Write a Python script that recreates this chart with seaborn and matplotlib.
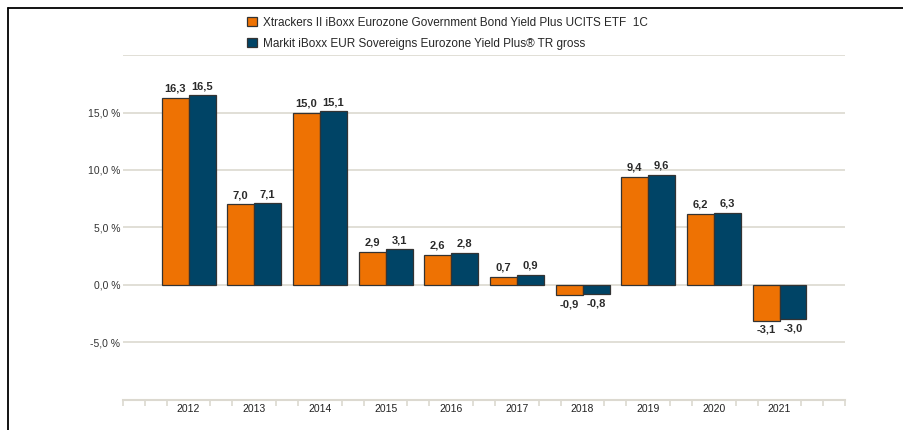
import numpy as np
import pandas as pd
import matplotlib.pyplot as plt
import matplotlib.ticker as mticker
from matplotlib.lines import Line2D
import seaborn as sns

years = ["2012", "2013", "2014", "2015", "2016", "2017", "2018", "2019", "2020", "2021"]
etf_name = "Xtrackers II iBoxx Eurozone Government Bond Yield Plus UCITS ETF  1C"
index_name = "Markit iBoxx EUR Sovereigns Eurozone Yield Plus® TR gross"
etf_values = [16.3, 7.0, 15.0, 2.9, 2.6, 0.7, -0.9, 9.4, 6.2, -3.1]
index_values = [16.5, 7.1, 15.1, 3.1, 2.8, 0.9, -0.8, 9.6, 6.3, -3.0]
y_tick_values = [-10, -5, 0, 5, 10, 15, 20]
y_tick_labels = ["", "-5,0 %", "0,0 %", "5,0 %", "10,0 %", "15,0 %", ""]

df = pd.DataFrame({
    "year": years * 2,
    "series": [etf_name] * len(years) + [index_name] * len(years),
    "value": etf_values + index_values,
})

sns.set_style("white")
plt.rcParams["font.family"] = ["Liberation Sans", "DejaVu Sans"]

fig = plt.figure(figsize=(9.04, 4.30), dpi=100)
ax = fig.add_axes([0.136, 0.070, 0.799, 0.802])

grid_col = "#dcd9d0"
sns.barplot(
    data=df, x="year", y="value", hue="series",
    order=years, hue_order=[etf_name, index_name],
    palette=["#ee7203", "#004466"], saturation=1,
    width=0.82, edgecolor="#333333", linewidth=0.9,
    ax=ax, zorder=3,
)

for cont, vals in zip(ax.containers, [etf_values, index_values]):
    labels = [f"{v:.1f}".replace(".", ",") for v in vals]
    ax.bar_label(cont, labels=labels, padding=3, fontsize=8, fontweight="bold", color="#2a2a2a")

ax.set_xlim(-1, 10)
ax.set_ylim(-10, 20)
ax.set_yticks(y_tick_values)
ax.set_yticklabels(y_tick_labels, fontsize=7.5, color="#333333")
ax.yaxis.grid(True, color=grid_col, linewidth=1.2, zorder=0)
ax.tick_params(axis="y", length=0, pad=2)

# x axis: labels at category centres, small ticks at thirds
ax.set_xticks(range(len(years)))
ax.set_xticklabels(years, fontsize=7.5, color="#222222")
ax.tick_params(axis="x", which="major", length=0, pad=3)
minor = [x for x in np.arange(-1, 10.01, 1 / 3) if abs(x - round(x)) > 0.05 or round(x) in (-1, 10)]
ax.xaxis.set_minor_locator(mticker.FixedLocator(minor))
ax.tick_params(axis="x", which="minor", bottom=True, length=4, color=grid_col, width=1.2, direction="out")

ax.set_xlabel("")
ax.set_ylabel("")
for side in ["top", "right", "left"]:
    ax.spines[side].set_visible(False)
ax.spines["bottom"].set_color(grid_col)
ax.spines["bottom"].set_linewidth(1.5)

handles, labels = ax.get_legend_handles_labels()
ax.get_legend().remove()
fig.legend(
    handles, labels, loc="upper left", bbox_to_anchor=(0.262, 0.985),
    frameon=False, fontsize=8.5, handlelength=0.8, handleheight=0.8,
    handletextpad=0.5, labelspacing=0.75,
)

# frame lines at top and left of the image
fig.add_artist(Line2D([0.009, 1.0], [0.982, 0.982], color="black", linewidth=1.3, transform=fig.transFigure))
fig.add_artist(Line2D([0.009, 0.009], [0.0, 0.982], color="black", linewidth=1.3, transform=fig.transFigure))

fig.savefig("out.png", dpi=100)
